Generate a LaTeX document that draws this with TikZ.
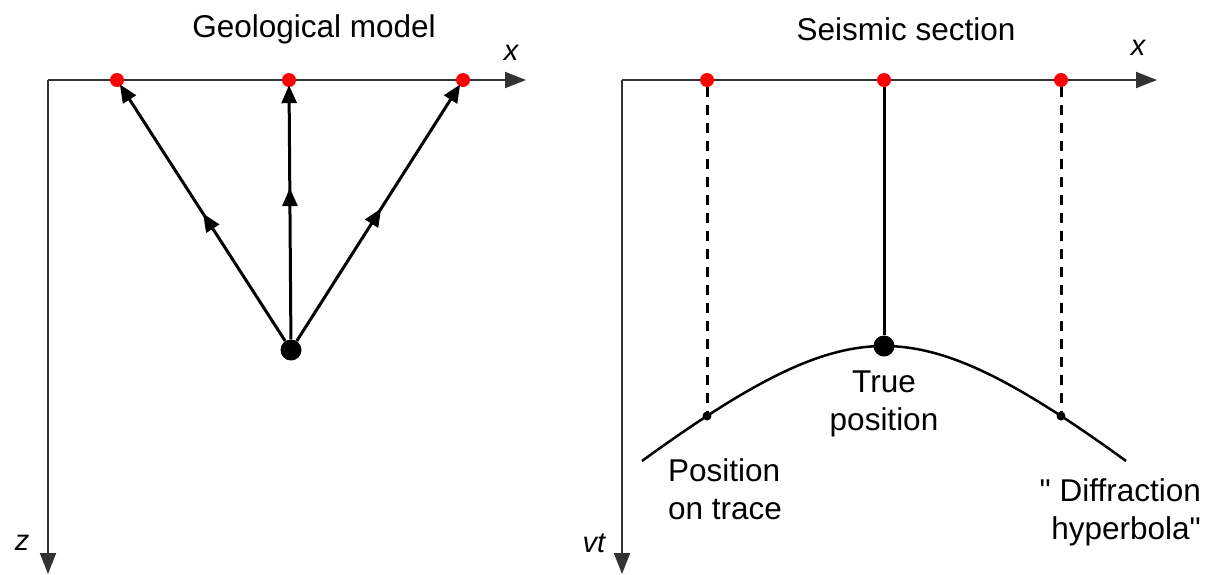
\documentclass[tikz,border=0pt]{standalone}
\usepackage{fontspec}
\setmainfont{Liberation Sans}
\newfontfamily\rawqfont{Liberation Sans}
\newcommand{\sq}{{\rawqfont"}}
\usetikzlibrary{arrows.meta,decorations.markings}
\tikzset{
  axis/.style={draw=black!80, line width=2pt, -{Triangle[length=21pt,width=16pt]}},
  reddot/.style={circle, fill=red, inner sep=0pt, minimum size=14pt},
  bigdot/.style={circle, fill=black, inner sep=0pt, minimum size=21pt},
  smalldot/.style={circle, fill=black, inner sep=0pt, minimum size=9pt},
  ray/.style={line width=3pt, -{Triangle[length=18pt,width=15pt]}, shorten >=-2pt,
    postaction={decorate}, decoration={markings,
      mark=at position #1 with {\arrow{Triangle[length=18pt,width=15pt]}}}},
  ray/.default=0.55,
  trace/.style={line width=3pt, dash pattern=on 10pt off 8pt},
  solidtrace/.style={line width=3pt},
  lbl/.style={font=\fontsize{31.5}{38}\selectfont, inner sep=0pt},
  axlbl/.style={font=\fontsize{29}{30}\selectfont\itshape, inner sep=0pt}
}
\begin{document}
\begin{tikzpicture}[x=1pt,y=-1pt]
\useasboundingbox (0,0) rectangle (1214,574);
% ---------- left panel ----------
\coordinate (lo) at (48,80);
\coordinate (lxend) at (526,80);
\coordinate (lzend) at (48,574);
\draw[axis] (lo) -- (lxend);
\draw[axis] (lo) -- (lzend);
\node[lbl] (lt) at (314,29) {Geological model};
\node[axlbl] (lx) at (511,53) {x};
\node[axlbl] (lz) at (22,543) {z};
\node[reddot] (l1) at (117,80) {};
\node[reddot] (l2) at (289,80) {};
\node[reddot] (l3) at (463,80) {};
\node[bigdot] (src) at (291,350) {};
\draw[ray=0.5] (src) -- (l1);
\draw[ray=0.6] (src) -- (l2);
\draw[ray=0.52] (src) -- (l3);
% ---------- right panel ----------
\coordinate (ro) at (622,80);
\coordinate (rxend) at (1157,80);
\coordinate (rtend) at (622,574);
\draw[axis] (ro) -- (rxend);
\draw[axis] (ro) -- (rtend);
\node[lbl] (rt) at (906,29) {Seismic section};
\node[axlbl] (rx) at (1138,48) {x};
\node[axlbl] (rvt) at (594,543) {vt};
\node[reddot] (r1) at (707,80) {};
\node[reddot] (r2) at (884,80) {};
\node[reddot] (r3) at (1061,80) {};
% hyperbola
\draw[line width=2.5pt] plot[domain=-242:242, samples=80, smooth]
  ({884+\x},{218+100*sqrt(1.6384+0.728*(\x/100)*(\x/100))});
\node[bigdot] (tp) at (884,346) {};
\node[smalldot] (p1) at (707,416) {};
\node[smalldot] (p3) at (1061,416) {};
\draw[solidtrace] (r2) -- (tp);
\draw[trace] (r1) -- (p1);
\draw[trace] (r3) -- (p3);
\node[lbl, align=center, anchor=north] (tl) at (884,371) {True\\position};
\node[lbl, align=left, anchor=north west] (pl) at (668,458) {Position\\on trace};
\node[lbl, align=right, anchor=north east] (dl) at (1201,478) {\sq\ Diffraction\\hyperbola\sq};
\end{tikzpicture}
\end{document}
